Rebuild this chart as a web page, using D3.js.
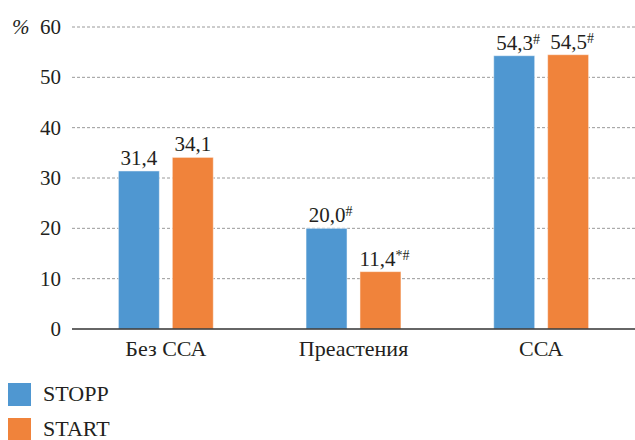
<!DOCTYPE html>
<html>
<head>
<meta charset="utf-8">
<script src="https://cdn.jsdelivr.net/npm/d3@7"></script>
<style>
  body { margin: 0; background: #fff; }
</style>
</head>
<body>
<svg id="chart" width="635" height="440"></svg>
<script>
const categories = ["Без ССА", "Преастения", "ССА"];
const seriesNames = ["STOPP", "START"];
const stoppValues = [31.4, 20.0, 54.3];
const startValues = [34.1, 11.4, 54.5];
const stoppMarks = ["", "#", "#"];
const startMarks = ["", "*#", "#"];
const yTicks = [0, 10, 20, 30, 40, 50, 60];
const colors = ["#4f97d1", "#f0833b"];

const FONT = "Liberation Serif";
const TEXT_COLOR = "#231f20";

const svg = d3.select("#chart");
const plotLeft = 72;
const plotRight = 635;
const plotTop = 27;
const plotBottom = 329;

const x = d3.scaleBand().domain(categories).range([plotLeft, plotRight]);
const xInner = d3.scaleBand().domain(seriesNames).range([0, x.bandwidth()]).paddingInner(0.24).paddingOuter(0.86);
const y = d3.scaleLinear().domain([0, 60]).range([plotBottom, plotTop]);

// grid
svg.append("g")
  .selectAll("line")
  .data(yTicks.filter((d) => d > 0))
  .join("line")
  .attr("x1", plotLeft)
  .attr("x2", plotRight)
  .attr("y1", (d) => y(d))
  .attr("y2", (d) => y(d))
  .attr("stroke", "#9a9a9a")
  .attr("stroke-width", 1)
  .attr("stroke-dasharray", "3,2");

svg.append("g")
  .selectAll("text")
  .data(yTicks)
  .join("text")
  .attr("x", 61)
  .attr("y", (d) => y(d))
  .attr("dy", "0.34em")
  .attr("text-anchor", "end")
  .attr("font-family", FONT)
  .attr("fill", TEXT_COLOR)
  .attr("font-size", 21)
  .text((d) => d);

svg.append("text")
  .attr("x", 12)
  .attr("y", y(60))
  .attr("dy", "0.34em")
  .attr("font-family", FONT)
  .attr("fill", TEXT_COLOR)
  .attr("font-size", 21)
  .attr("font-style", "italic")
  .text("%");

const series = [
  { name: seriesNames[0], values: stoppValues, marks: stoppMarks, color: colors[0] },
  { name: seriesNames[1], values: startValues, marks: startMarks, color: colors[1] },
];

series.forEach((s) => {
  const g = svg.append("g");
  g.selectAll("rect")
    .data(categories)
    .join("rect")
    .attr("x", (c) => x(c) + xInner(s.name))
    .attr("width", xInner.bandwidth())
    .attr("y", (c, i) => y(s.values[i]))
    .attr("height", (c, i) => y(0) - y(s.values[i]))
    .attr("fill", s.color)
    .attr("stroke", "#fff")
    .attr("stroke-opacity", 0.5)
    .attr("stroke-width", 1);

  const labels = g.selectAll("text")
    .data(categories)
    .join("text")
    .attr("x", (c, i) => x(c) + xInner(s.name) + xInner.bandwidth() / 2 + (s.marks[i] ? 4 : 0))
    .attr("y", (c, i) => y(s.values[i]) - 6)
    .attr("text-anchor", "middle")
    .attr("font-family", FONT)
    .attr("fill", TEXT_COLOR)
    .attr("font-size", 21);
  labels.append("tspan")
    .text((c, i) => s.values[i].toFixed(1).replace(".", ","));
  labels.append("tspan")
    .attr("font-size", 14)
    .attr("dy", -6)
    .text((c, i) => s.marks[i]);
});

// zero axis
svg.append("line")
  .attr("x1", plotLeft)
  .attr("x2", plotRight)
  .attr("y1", y(0))
  .attr("y2", y(0))
  .attr("stroke", "#333")
  .attr("stroke-width", 1.5);

svg.append("g")
  .selectAll("text")
  .data(categories)
  .join("text")
  .attr("x", (c) => x(c) + x.bandwidth() / 2)
  .attr("y", 356)
  .attr("text-anchor", "middle")
  .attr("font-family", FONT)
  .attr("fill", TEXT_COLOR)
  .attr("font-size", 22)
  .text((c) => c);

// legend
const legend = svg.append("g")
  .selectAll("g")
  .data(series)
  .join("g")
  .attr("transform", (d, i) => `translate(8, ${383 + i * 35})`);
legend.append("rect")
  .attr("width", 23)
  .attr("height", 23)
  .attr("fill", (d) => d.color);
legend.append("text")
  .attr("x", 35)
  .attr("y", 18)
  .attr("font-family", FONT)
  .attr("fill", TEXT_COLOR)
  .attr("font-size", 22)
  .text((d) => d.name);
</script>
</body>
</html>
